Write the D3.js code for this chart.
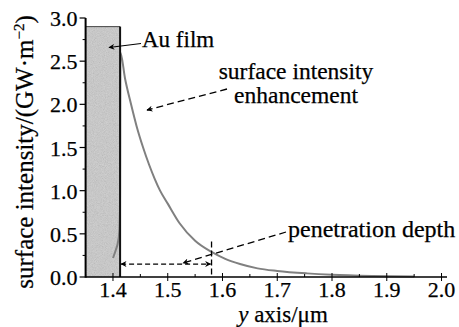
<!DOCTYPE html>
<html>
<head>
<meta charset="utf-8">
<script src="https://cdn.jsdelivr.net/npm/d3@7/dist/d3.min.js"></script>
<style>
  html, body { margin: 0; padding: 0; background: #fff; }
  svg { display: block; }
  text { stroke: #000; stroke-width: 0.25; }
</style>
</head>
<body>
<svg id="chart" width="459" height="327" font-family="'Liberation Serif', 'DejaVu Serif', serif"></svg>
<script>
// Intensity profile across the gold film / dielectric boundary
const positionUm = [1.400, 1.405, 1.409, 1.4115, 1.4128, 1.4135,
                    1.422, 1.433, 1.443, 1.455, 1.466, 1.476, 1.486, 1.500, 1.522, 1.550,
                    1.580, 1.605, 1.632, 1.664, 1.700, 1.754, 1.800, 1.874, 1.950];
const intensity  = [0.22, 0.31, 0.40, 0.52, 0.80, 2.60,
                    2.30, 2.00, 1.75, 1.50, 1.30, 1.14, 1.00, 0.85, 0.62, 0.42,
                    0.29, 0.21, 0.15, 0.10, 0.07, 0.042, 0.026, 0.012, 0.005];

// Gold film extent and height
const filmRange = [1.35, 1.413];
const filmTop = 2.9;

// Penetration depth marker
const depthEdge = [1.413, 1.580];
const depthArrowLevel = 0.15;
const depthMarkerTop = 0.41;

const xTicks = [1.4, 1.5, 1.6, 1.7, 1.8, 1.9, 2.0];
const xMinorTicks = [1.35, 1.45, 1.55, 1.65, 1.75, 1.85, 1.95];
const yTicks = [0.0, 0.5, 1.0, 1.5, 2.0, 2.5, 3.0];
const yMinorTicks = [0.25, 0.75, 1.25, 1.75, 2.25, 2.75];

const svg = d3.select("#chart");
const x = d3.scaleLinear().domain([1.35, 2.01]).range([85.6, 447]);
const y = d3.scaleLinear().domain([0, 3]).range([277, 18]);

const defs = svg.append("defs");
const grain = defs.append("filter").attr("id", "grain")
  .attr("x", 0).attr("y", 0).attr("width", 1).attr("height", 1);
grain.append("feTurbulence").attr("type", "fractalNoise")
  .attr("baseFrequency", 1.1).attr("numOctaves", 2).attr("seed", 7).attr("result", "n");
grain.append("feColorMatrix").attr("in", "n").attr("type", "matrix")
  .attr("values", "0.33 0.33 0.33 0 0  0.33 0.33 0.33 0 0  0.33 0.33 0.33 0 0  0 0 0 0 1");

defs.append("marker").attr("id", "arrow")
  .attr("viewBox", "0 0 10 10").attr("refX", 9).attr("refY", 5)
  .attr("markerWidth", 7).attr("markerHeight", 6)
  .attr("markerUnits", "userSpaceOnUse")
  .attr("orient", "auto-start-reverse")
  .append("path").attr("d", "M0,0 L10,5 L0,10 L3,5 Z").attr("fill", "#000");

// Gold film block
const fx = x(filmRange[0]), fw = x(filmRange[1]) - x(filmRange[0]);
svg.append("rect").attr("x", fx).attr("y", y(filmTop)).attr("width", fw)
  .attr("height", y(0) - y(filmTop)).attr("fill", "#cdcdcd");
svg.append("rect").attr("x", fx).attr("y", y(filmTop)).attr("width", fw)
  .attr("height", y(0) - y(filmTop)).attr("filter", "url(#grain)").attr("opacity", 0.3);
svg.append("line").attr("x1", fx).attr("x2", x(filmRange[1]))
  .attr("y1", y(filmTop)).attr("y2", y(filmTop)).attr("stroke", "#444").attr("stroke-width", 1);

// Intensity curve
const line = d3.line().x((d, i) => x(positionUm[i])).y(d => y(d)).curve(d3.curveMonotoneX);
svg.append("path").datum(intensity).attr("d", line)
  .attr("fill", "none").attr("stroke", "#808080").attr("stroke-width", 2);

// Film boundary edge
svg.append("line").attr("x1", x(filmRange[1])).attr("x2", x(filmRange[1]))
  .attr("y1", y(filmTop)).attr("y2", y(0)).attr("stroke", "#111").attr("stroke-width", 2);

// Axes
const xAxis = svg.append("g").attr("transform", `translate(0,${y(0)})`);
xAxis.append("line").attr("x1", x.range()[0]).attr("x2", x.range()[1])
  .attr("stroke", "#000").attr("stroke-width", 1.5);
xAxis.selectAll(".maj").data(xTicks).join("line").attr("class", "maj")
  .attr("x1", d => x(d)).attr("x2", d => x(d)).attr("y1", -4).attr("y2", 4)
  .attr("stroke", "#000").attr("stroke-width", 1);
xAxis.selectAll(".min").data(xMinorTicks).join("line").attr("class", "min")
  .attr("x1", d => x(d)).attr("x2", d => x(d)).attr("y1", -3).attr("y2", 0)
  .attr("stroke", "#000").attr("stroke-width", 1);
xAxis.selectAll("text").data(xTicks).join("text")
  .attr("x", d => x(d)).attr("y", 20).attr("text-anchor", "middle")
  .attr("font-size", 22).text(d => d3.format(".1f")(d));

const yAxis = svg.append("g").attr("transform", `translate(${x.range()[0]},0)`);
yAxis.append("line").attr("y1", y(0) + 0.75).attr("y2", y(3))
  .attr("stroke", "#000").attr("stroke-width", 2);
yAxis.selectAll(".maj").data(yTicks).join("line").attr("class", "maj")
  .attr("x1", -6).attr("x2", 0).attr("y1", d => y(d)).attr("y2", d => y(d))
  .attr("stroke", "#000").attr("stroke-width", 1.2);
yAxis.selectAll(".min").data(yMinorTicks).join("line").attr("class", "min")
  .attr("x1", -3).attr("x2", 0).attr("y1", d => y(d)).attr("y2", d => y(d))
  .attr("stroke", "#000").attr("stroke-width", 1);
yAxis.selectAll("text").data(yTicks).join("text")
  .attr("x", -8).attr("y", d => y(d) + 8).attr("text-anchor", "end")
  .attr("font-size", 22).text(d => d3.format(".1f")(d));

// Axis titles
const xt = svg.append("text").attr("x", 283).attr("y", 322)
  .attr("text-anchor", "middle").attr("font-size", 23);
xt.append("tspan").attr("font-style", "italic").text("y");
xt.append("tspan").text(" axis/μm");

const yt = svg.append("text").attr("transform", "translate(33,152) rotate(-90)")
  .attr("text-anchor", "middle").attr("font-size", 25);
yt.append("tspan").text("surface intensity/(GW·m");
yt.append("tspan").attr("dy", -9).attr("font-size", 15).text("−2");
yt.append("tspan").attr("dy", 9).text(")");

// Annotations
svg.append("text").attr("x", 142).attr("y", 47).attr("font-size", 23).text("Au film");
svg.append("line").attr("x1", 141).attr("y1", 43.5).attr("x2", 109).attr("y2", 47.5)
  .attr("stroke", "#000").attr("stroke-width", 1.2).attr("marker-end", "url(#arrow)");

svg.append("text").attr("x", 296).attr("y", 79).attr("text-anchor", "middle")
  .attr("font-size", 23.5).text("surface intensity");
svg.append("text").attr("x", 296).attr("y", 103).attr("text-anchor", "middle")
  .attr("font-size", 23.5).text("enhancement");
svg.append("line").attr("x1", 227).attr("y1", 89).attr("x2", 147).attr("y2", 110)
  .attr("stroke", "#000").attr("stroke-width", 1.3).attr("stroke-dasharray", "7,4")
  .attr("marker-end", "url(#arrow)");

svg.append("text").attr("x", 288).attr("y", 237).attr("font-size", 24).text("penetration depth");
svg.append("line").attr("x1", 286).attr("y1", 232).attr("x2", 183).attr("y2", 263)
  .attr("stroke", "#000").attr("stroke-width", 1.3).attr("stroke-dasharray", "7,4")
  .attr("marker-end", "url(#arrow)");

svg.append("line")
  .attr("x1", x(depthEdge[1])).attr("x2", x(depthEdge[1]))
  .attr("y1", y(depthMarkerTop)).attr("y2", y(0))
  .attr("stroke", "#000").attr("stroke-width", 1.3).attr("stroke-dasharray", "6,3");
svg.append("line")
  .attr("x1", x(depthEdge[0]) + 1).attr("x2", x(depthEdge[1]) - 1)
  .attr("y1", y(depthArrowLevel)).attr("y2", y(depthArrowLevel))
  .attr("stroke", "#000").attr("stroke-width", 1.3).attr("stroke-dasharray", "5,3")
  .attr("marker-start", "url(#arrow)").attr("marker-end", "url(#arrow)");
</script>
</body>
</html>
